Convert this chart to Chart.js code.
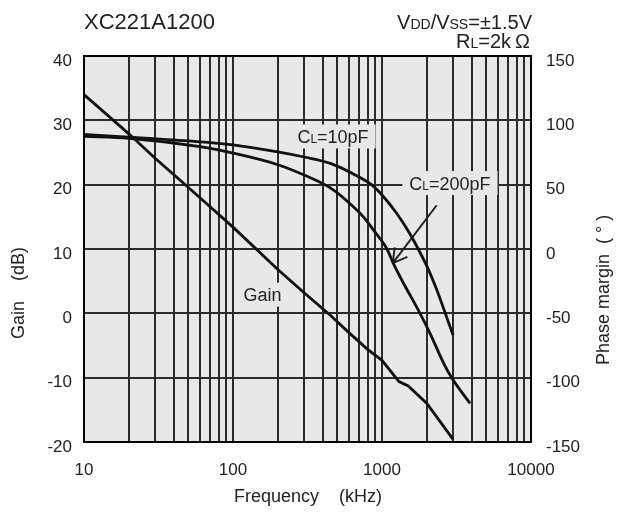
<!DOCTYPE html>
<html>
<head>
<meta charset="utf-8">
<script src="https://cdn.jsdelivr.net/npm/chart.js@4.4.1/dist/chart.umd.min.js"></script>
<style>
  html, body { margin: 0; padding: 0; background: #fff; }
  #wrap { width: 619px; height: 517px; }
</style>
</head>
<body>
<div id="wrap"><canvas id="myChart" width="619" height="517"></canvas></div>
<script>
// ---- data ----
const gainFreq = [10, 20, 30, 50, 100, 200, 300, 450, 600, 800, 1000, 1300, 1500, 2000, 3000];
const gainDb   = [34, 27.9, 24.1, 19.6, 13.4, 6.8, 3.2, -0.3, -3.0, -5.6, -7.3, -10.6, -11.3, -14.0, -19.6];

const phase10Freq = [10, 20, 50, 100, 200, 300, 450, 700, 850, 1000, 1250, 1500, 1750, 2050, 2300, 3000];
const phase10Deg  = [89, 87, 84, 81, 75.5, 71.5, 66.5, 56, 50, 42, 28, 14, 0, -16, -30, -67];

const phase200Freq = [10, 20, 60, 100, 200, 300, 450, 600, 750, 900, 1080, 1200, 1400, 1800, 2100, 2600, 2950, 3900];
const phase200Deg  = [87.5, 86, 79.5, 74.5, 65.5, 57.5, 47.5, 36, 25, 13, 0, -12, -27, -50, -65.5, -89, -100.5, -120];

const freqTickLabels  = [10, 100, 1000, 10000];
const gainTickLabels  = [-20, -10, 0, 10, 20, 30, 40];
const phaseTickLabels = [-150, -100, -50, 0, 50, 100, 150];

// vertical grid lines: 1..9 in each decade
const gridFreqs = [];
for (let d = 10; d < 10000; d *= 10) {
  for (let m = 1; m < 10; m++) gridFreqs.push(d * m);
}
gridFreqs.push(10000);

const FONT = '"Liberation Sans", Arial, sans-serif';
const INK = '#222';
const PLOT_BG = '#e8e8e8';

function pts(xs, ys) {
  return xs.map((x, i) => ({ x: x, y: ys[i] }));
}

// text made of parts with different sizes (for the small "DD", "L" ...)
function drawParts(ctx, parts, x, y, align) {
  let w = 0;
  parts.forEach(p => { ctx.font = p[1] + 'px ' + FONT; w += ctx.measureText(p[0]).width; });
  let cx = align === 'right' ? x - w : align === 'center' ? x - w / 2 : x;
  ctx.textAlign = 'left';
  ctx.textBaseline = 'alphabetic';
  parts.forEach(p => {
    ctx.font = p[1] + 'px ' + FONT;
    ctx.fillText(p[0], cx, y);
    cx += ctx.measureText(p[0]).width;
  });
  return w;
}

// curve labels, placed in data units (frequency, gain dB)
const curveNotes = [
  { parts: [['C', 18], ['L', 12], ['=10pF', 18]], f: 469, db: 27.5 },
  { parts: [['C', 18], ['L', 12], ['=200pF', 18]], f: 2858, db: 20.25 },
  { parts: [['Gain', 18]], f: 158, db: 2.9 }
];
const arrowNote = { from: [2329, 16.8], to: [1180, 7.8] };

const chartDecor = {
  id: 'chartDecor',
  beforeDraw(chart) {
    const { ctx, chartArea: a } = chart;
    ctx.save();
    ctx.fillStyle = PLOT_BG;
    ctx.fillRect(a.left, a.top, a.right - a.left, a.bottom - a.top);
    ctx.restore();
  },
  beforeDatasetsDraw(chart) {
    const { ctx } = chart;
    const xs = chart.scales.x, ys = chart.scales.yGain;
    ctx.save();
    ctx.fillStyle = INK;
    curveNotes.forEach(n => {
      const px = xs.getPixelForValue(n.f);
      const py = ys.getPixelForValue(n.db);
      let w = 0;
      n.parts.forEach(p => { ctx.font = p[1] + 'px ' + FONT; w += ctx.measureText(p[0]).width; });
      ctx.fillStyle = PLOT_BG;
      ctx.fillRect(px - w / 2 - 7, py - 12, w + 14, 24);
      ctx.fillStyle = INK;
      drawParts(ctx, n.parts, px, py + 6.5, 'center');
    });

    // arrow to the 200pF curve
    const x0 = xs.getPixelForValue(arrowNote.from[0]), y0 = ys.getPixelForValue(arrowNote.from[1]);
    const x1 = xs.getPixelForValue(arrowNote.to[0]), y1 = ys.getPixelForValue(arrowNote.to[1]);
    const ang = Math.atan2(y0 - y1, x0 - x1);
    ctx.strokeStyle = INK;
    ctx.lineWidth = 2;
    ctx.beginPath();
    ctx.moveTo(x0, y0);
    ctx.lineTo(x1, y1);
    [-0.52, 0.52].forEach(da => {
      ctx.moveTo(x1, y1);
      ctx.lineTo(x1 + 16 * Math.cos(ang + da), y1 + 16 * Math.sin(ang + da));
    });
    ctx.stroke();
    ctx.restore();
  },
  afterDraw(chart) {
    const { ctx, chartArea: a } = chart;
    ctx.save();
    // frame
    ctx.strokeStyle = '#000';
    ctx.lineWidth = 2;
    ctx.strokeRect(a.left, a.top, a.right - a.left, a.bottom - a.top);

    ctx.fillStyle = INK;
    // title and conditions
    drawParts(ctx, [['XC221A1200', 22]], 84, 29, 'left');
    drawParts(ctx, [['V', 20], ['DD', 14], ['/V', 20], ['SS', 14], ['=\u00b11.5V', 20]], 532, 29, 'right');
    drawParts(ctx, [['R', 20], ['L', 14], ['=2k\u2009\u03a9', 20]], 530, 48, 'right');

    // axis titles
    ctx.font = '18px ' + FONT;
    ctx.textAlign = 'center';
    ctx.textBaseline = 'middle';
    ctx.fillText('Frequency    (kHz)', 308, 497);

    ctx.save();
    ctx.translate(19, 293);
    ctx.rotate(-Math.PI / 2);
    ctx.fillText('Gain    (dB)', 0, 0);
    ctx.restore();

    ctx.save();
    ctx.translate(604, 290);
    ctx.rotate(-Math.PI / 2);
    ctx.fillText('Phase margin  ( \u00b0 )', 0, 0);
    ctx.restore();

    ctx.restore();
  }
};

const lineStyle = {
  borderColor: '#111',
  borderWidth: 2.8,
  pointRadius: 0,
  fill: false,
  cubicInterpolationMode: 'monotone'
};

const ctx = document.getElementById('myChart').getContext('2d');

new Chart(ctx, {
  type: 'line',
  data: {
    datasets: [
      // gain is close to straight segments, so no smoothing there
      Object.assign({ label: 'Gain', data: pts(gainFreq, gainDb), yAxisID: 'yGain' }, lineStyle,
        { cubicInterpolationMode: 'default', tension: 0 }),
      Object.assign({ label: 'CL=10pF', data: pts(phase10Freq, phase10Deg), yAxisID: 'yPhase' }, lineStyle),
      Object.assign({ label: 'CL=200pF', data: pts(phase200Freq, phase200Deg), yAxisID: 'yPhase' }, lineStyle)
    ]
  },
  options: {
    responsive: false,
    animation: false,
    layout: { padding: { top: 56, left: 0, right: 0, bottom: 0 } },
    plugins: {
      legend: { display: false },
      tooltip: { enabled: false }
    },
    scales: {
      x: {
        type: 'logarithmic',
        min: 10,
        max: 10000,
        afterFit(scale) { scale.height = 75; },
        afterBuildTicks(scale) {
          scale.ticks = gridFreqs.map(v => ({ value: v }));
        },
        grid: { color: '#2b2b2b', lineWidth: 2, drawTicks: false },
        border: { display: false },
        ticks: {
          autoSkip: false,
          maxRotation: 0,
          padding: 18,
          color: INK,
          font: { family: FONT, size: 17 },
          callback: v => freqTickLabels.includes(v) ? String(v) : ''
        }
      },
      yGain: {
        type: 'linear',
        position: 'left',
        min: gainTickLabels[0],
        max: gainTickLabels[gainTickLabels.length - 1],
        afterFit(scale) { scale.width = 84; },
        grid: { color: '#2b2b2b', lineWidth: 2, drawTicks: false },
        border: { display: false },
        ticks: {
          stepSize: 10,
          padding: 12,
          labelOffset: 5,
          color: INK,
          font: { family: FONT, size: 17 }
        }
      },
      yPhase: {
        type: 'linear',
        position: 'right',
        min: phaseTickLabels[0],
        max: phaseTickLabels[phaseTickLabels.length - 1],
        afterFit(scale) { scale.width = 88; },
        grid: { drawOnChartArea: false, drawTicks: false },
        border: { display: false },
        ticks: {
          stepSize: 50,
          padding: 15,
          labelOffset: 5,
          color: INK,
          font: { family: FONT, size: 17 }
        }
      }
    }
  },
  plugins: [chartDecor]
});
</script>
</body>
</html>
